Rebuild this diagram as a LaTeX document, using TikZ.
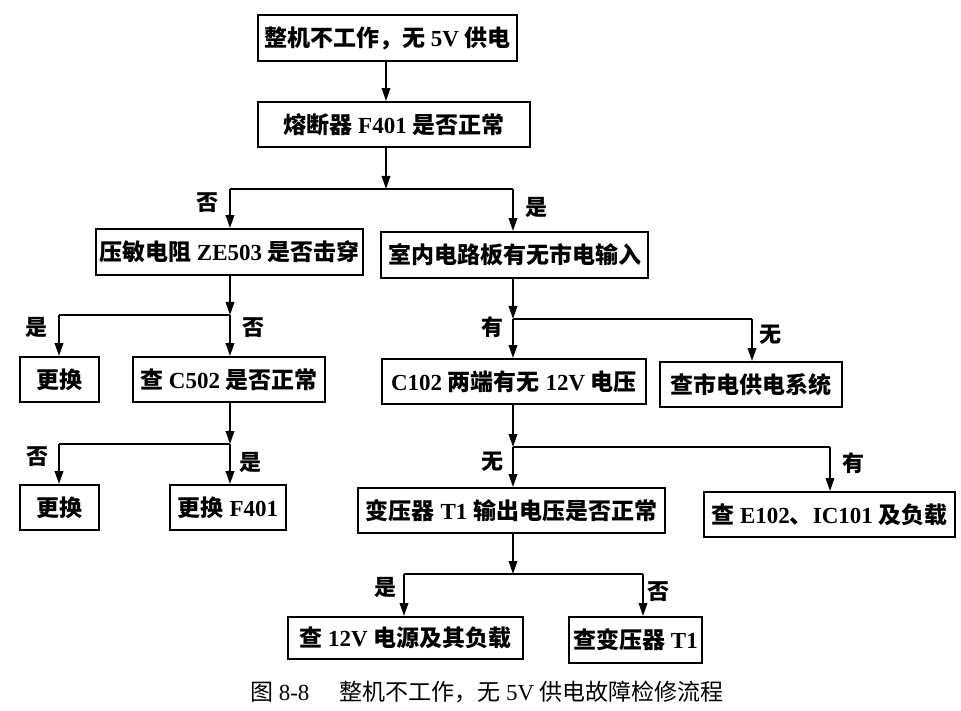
\documentclass[tikz,border=0pt]{standalone}
\usepackage{fontspec}
\setmainfont{Liberation Serif}
\newfontfamily\cjkf{Noto Sans CJK SC}
\usetikzlibrary{arrows.meta}
\newcommand\zh[1]{{\cjkf #1}}
\newcommand\mkbox[6]{\node[box,minimum width={#4-#2},minimum height={#5-#3}] (#1) at ({(#2+#4)/2},{(#3+#5)/2}) {#6};}
\tikzset{
  box/.style={draw,line width=1.9pt,inner sep=0pt,align=center,font=\fontsize{23}{26}\selectfont\bfseries},
  line/.style={line width=1.9pt},
  arr/.style={line width=1.9pt,-{Triangle[length=13pt,width=8.5pt]}},
  lab/.style={font=\fontsize{22}{26}\selectfont\bfseries\cjkf,inner sep=0pt},
}
\begin{document}
\begin{tikzpicture}[x=1pt,y=-1pt]
\useasboundingbox (0,0) rectangle (961,711);
% boxes
\mkbox{b1}{258}{15}{517}{61}{\zh{整机不工作，无} 5V \zh{供电}}
\mkbox{b2}{258}{102}{530}{147}{\zh{熔断器} F401 \zh{是否正常}}
\mkbox{b3}{96}{229}{363}{275}{\zh{压敏电阻} ZE503 \zh{是否击穿}}
\mkbox{b4}{381}{232}{648}{278}{\zh{室内电路板有无市电输入}}
\mkbox{b5}{20}{357}{99}{402}{\zh{更换}}
\mkbox{b6}{133}{357}{325}{402}{\zh{查} C502 \zh{是否正常}}
\mkbox{b7}{20}{485}{99}{530}{\zh{更换}}
\mkbox{b8}{170}{485}{286}{530}{\zh{更换} F401}
\mkbox{b9}{382}{359}{646}{404}{C102 \zh{两端有无} 12V \zh{电压}}
\mkbox{b10}{660}{362}{842}{407}{\zh{查市电供电系统}}
\mkbox{b11}{358}{488}{665}{533}{\zh{变压器} T1 \zh{输出电压是否正常}}
\mkbox{b12}{704}{492}{955}{537}{\zh{查} E102\zh{、}IC101 \zh{及负载}}
\mkbox{b13}{288}{617}{523}{659}{\zh{查} 12V \zh{电源及其负载}}
\mkbox{b14}{569}{617}{702}{663}{\zh{查变压器} T1}
% junctions
\coordinate (j1) at (386,189);
\coordinate (j1l) at (230,189);
\coordinate (j1r) at (513,189);
\coordinate (j2) at (230,315);
\coordinate (j2l) at (59,315);
\coordinate (j3) at (230,444);
\coordinate (j3l) at (59,444);
\coordinate (j4) at (513,319);
\coordinate (j4r) at (752,319);
\coordinate (j5) at (513,447);
\coordinate (j5r) at (830,447);
\coordinate (j6) at (513,574);
\coordinate (j6l) at (404,574);
\coordinate (j6r) at (643,574);
% connectors
\draw[arr] (b1.south -| j1) -- (b2.north -| j1);
\draw[arr] (j1 |- b2.south) -- (j1);
\draw[line] (j1l) -- (j1r);
\draw[arr] (j1l) -- (j1l |- b3.north);
\draw[arr] (j1r) -- (j1r |- b4.north);
\draw[arr] (j2 |- b3.south) -- (j2);
\draw[line] (j2l) -- (j2);
\draw[arr] (j2l) -- (j2l |- b5.north);
\draw[arr] (j2) -- (j2 |- b6.north);
\draw[arr] (j3 |- b6.south) -- (j3);
\draw[line] (j3l) -- (j3);
\draw[arr] (j3l) -- (j3l |- b7.north);
\draw[arr] (j3) -- (j3 |- b8.north);
\draw[arr] (j4 |- b4.south) -- (j4);
\draw[line] (j4) -- (j4r);
\draw[arr] (j4) -- (j4 |- b9.north);
\draw[arr] (j4r) -- (j4r |- b10.north);
\draw[arr] (j5 |- b9.south) -- (j5);
\draw[line] (j5) -- (j5r);
\draw[arr] (j5) -- (j5 |- b11.north);
\draw[arr] (j5r) -- (j5r |- b12.north);
\draw[arr] (j6 |- b11.south) -- (j6);
\draw[line] (j6l) -- (j6r);
\draw[arr] (j6l) -- (j6l |- b13.north);
\draw[arr] (j6r) -- (j6r |- b14.north);
% labels
\node[lab] (l1) at (207,203) {否};
\node[lab] (l2) at (536,207) {是};
\node[lab] (l3) at (36,327) {是};
\node[lab] (l4) at (253,328) {否};
\node[lab] (l5) at (37,457) {否};
\node[lab] (l6) at (250,462) {是};
\node[lab] (l7) at (492,327) {有};
\node[lab] (l8) at (770,335) {无};
\node[lab] (l9) at (492,462) {无};
\node[lab] (l10) at (853,463) {有};
\node[lab] (l11) at (385,587) {是};
\node[lab] (l12) at (658,592) {否};
% caption
\node[font=\fontsize{23}{26}\selectfont,inner sep=0pt] (cap) at (487,692) {\zh{图} 8-8\hspace{1.3em}\zh{整机不工作，无} 5V \zh{供电故障检修流程}};
\end{tikzpicture}
\end{document}
